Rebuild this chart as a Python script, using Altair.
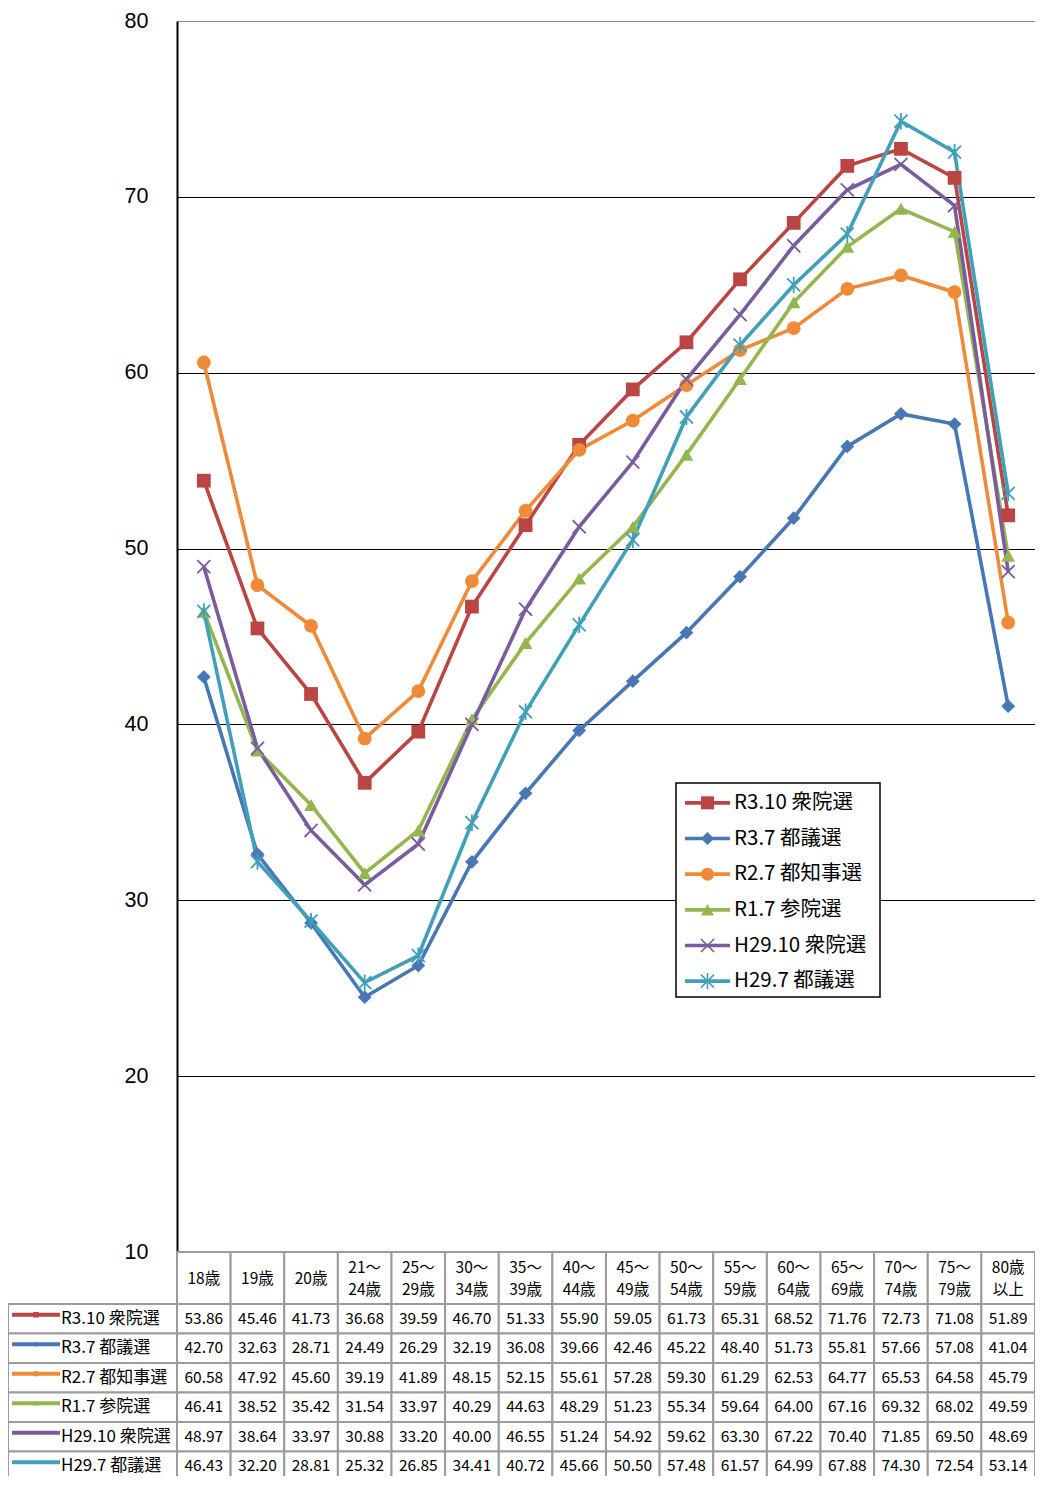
import altair as alt
import pandas as pd

categories = ["18歳", "19歳", "20歳", "21～24歳", "25～29歳", "30～34歳", "35～39歳", "40～44歳",
              "45～49歳", "50～54歳", "55～59歳", "60～64歳", "65～69歳", "70～74歳", "75～79歳", "80歳以上"]
header_labels = ["18歳", "19歳", "20歳", "21～\n24歳", "25～\n29歳", "30～\n34歳", "35～\n39歳", "40～\n44歳",
                 "45～\n49歳", "50～\n54歳", "55～\n59歳", "60～\n64歳", "65～\n69歳", "70～\n74歳", "75～\n79歳", "80歳\n以上"]
series = ["R3.10 衆院選", "R3.7 都議選", "R2.7 都知事選", "R1.7 参院選", "H29.10 衆院選", "H29.7 都議選"]

r3_10 = [53.86, 45.46, 41.73, 36.68, 39.59, 46.70, 51.33, 55.90, 59.05, 61.73, 65.31, 68.52, 71.76, 72.73, 71.08, 51.89]
r3_7 = [42.70, 32.63, 28.71, 24.49, 26.29, 32.19, 36.08, 39.66, 42.46, 45.22, 48.40, 51.73, 55.81, 57.66, 57.08, 41.04]
r2_7 = [60.58, 47.92, 45.60, 39.19, 41.89, 48.15, 52.15, 55.61, 57.28, 59.30, 61.29, 62.53, 64.77, 65.53, 64.58, 45.79]
r1_7 = [46.41, 38.52, 35.42, 31.54, 33.97, 40.29, 44.63, 48.29, 51.23, 55.34, 59.64, 64.00, 67.16, 69.32, 68.02, 49.59]
h29_10 = [48.97, 38.64, 33.97, 30.88, 33.20, 40.00, 46.55, 51.24, 54.92, 59.62, 63.30, 67.22, 70.40, 71.85, 69.50, 48.69]
h29_7 = [46.43, 32.20, 28.81, 25.32, 26.85, 34.41, 40.72, 45.66, 50.50, 57.48, 61.57, 64.99, 67.88, 74.30, 72.54, 53.14]
y_ticks = [10, 20, 30, 40, 50, 60, 70, 80]

values = [r3_10, r3_7, r2_7, r1_7, h29_10, h29_7]
colors = ["#BA4542", "#4877B5", "#EE8A38", "#93B74E", "#7A5C9E", "#41A0B9"]
shapes = ["square", "diamond", "circle", "triangle-up",
          "M-1,-1L1,1M-1,1L1,-1",
          "M-1,-1L1,1M-1,1L1,-1M0,-1.25L0,1.25"]

rows = []
for s, vals in zip(series, values):
    for i, (c, v) in enumerate(zip(categories, vals)):
        rows.append({"series": s, "cat": c, "idx": i, "value": v})
long = pd.DataFrame(rows)
filled_df = long[long["series"].isin(series[:4])]
cross_df = long[long["series"].isin(series[4:])]
ser_df = pd.DataFrame({"series": series})
head_df = pd.DataFrame({"cat": categories, "label": header_labels})
head_one = head_df[~head_df["label"].str.contains("\n")]
head_two = head_df[head_df["label"].str.contains("\n")]
one = pd.DataFrame({"k": [0]})

# layout (pixels inside plot area)
TOP = 13
W = 858
PLOT_H = 1231
HEAD_BOTTOM = PLOT_H + 52
ROW_H = 29.5
TOTAL_H = 1468 - TOP
JP = "Noto Sans CJK JP"
HEAD_MID = (PLOT_H + HEAD_BOTTOM) / 2
LEG_SHIFT = 16 - (8 + TOP)

color = alt.Color("series:N", scale=alt.Scale(domain=series, range=colors), legend=None)
shape = alt.Shape("series:N", scale=alt.Scale(domain=series, range=shapes), legend=None)

x_pt = alt.X("cat:N", sort=categories, scale=alt.Scale(type="point", domain=categories, padding=0.5), axis=None)
x_band = alt.X("cat:N", sort=categories, scale=alt.Scale(type="band", domain=categories, paddingInner=0, paddingOuter=0), axis=None)


def y_val(axis=None):
    return alt.Y("value:Q", scale=alt.Scale(domain=[10, 80], range=[PLOT_H, 0], nice=False, zero=False), axis=axis)


y_axis = alt.Axis(values=y_ticks, grid=True, ticks=False, labelPadding=29,
                  labelFont="Liberation Sans", labelFontSize=21.5, labelColor="#000",
                  domain=True, domainColor="#000", domainWidth=2,
                  gridColor={"condition": {"test": "datum.value === 80 || datum.value === 10", "value": "#8c8c8c"}, "value": "#000000"},
                  gridWidth=1.2, title=None)

lines = alt.Chart(long).mark_line(strokeWidth=3.6).encode(
    x=x_pt, y=y_val(y_axis), color=color, order=alt.Order("idx:Q"))

pts_filled = alt.Chart(filled_df).mark_point(filled=True, size=190, opacity=1).encode(
    x=x_pt, y=y_val(), color=color, shape=shape)
pts_cross = alt.Chart(cross_df).mark_point(filled=False, size=170, strokeWidth=1.8, opacity=1).encode(
    x=x_pt, y=y_val(), color=color, shape=shape)

# in-plot legend
LEG_X0, LEG_X1, LEG_Y0, LEG_Y1 = 499, 703, 767 + LEG_SHIFT, 981 + LEG_SHIFT
y_leg = alt.Y("series:N", scale=alt.Scale(type="point", domain=series, range=[LEG_Y0 + 2, LEG_Y1 + 2], padding=0.5), axis=None)
leg_box = alt.Chart(one).mark_rect(fill="white", stroke="#000", strokeWidth=1.5).encode(
    x=alt.value(LEG_X0), x2=alt.value(LEG_X1), y=alt.value(LEG_Y0), y2=alt.value(LEG_Y1))
leg_line = alt.Chart(ser_df).mark_rule(strokeWidth=3.6).encode(
    x=alt.value(508), x2=alt.value(553), y=y_leg, color=color)
leg_pts_f = alt.Chart(ser_df.iloc[:4]).mark_point(filled=True, size=170, opacity=1).encode(
    x=alt.value(530.5), y=y_leg, color=color, shape=shape)
leg_pts_c = alt.Chart(ser_df.iloc[4:]).mark_point(filled=False, size=170, strokeWidth=1.6, opacity=1).encode(
    x=alt.value(530.5), y=y_leg, color=color, shape=shape)
leg_text = alt.Chart(ser_df).mark_text(align="left", baseline="middle", font=JP, fontSize=20.5, color="#000").encode(
    x=alt.value(557), y=y_leg, text="series:N")

# data table
y_tab_band = alt.Y("series:N", scale=alt.Scale(type="band", domain=series, range=[HEAD_BOTTOM, HEAD_BOTTOM + 6 * ROW_H],
                                               paddingInner=0, paddingOuter=0), axis=None)
y_tab_pt = alt.Y("series:N", scale=alt.Scale(type="point", domain=series, range=[HEAD_BOTTOM, HEAD_BOTTOM + 6 * ROW_H],
                                             padding=0.5), axis=None)
GRID = "#9b9b9b"
head_cells = alt.Chart(head_df).mark_rect(fill="white", stroke=GRID, strokeWidth=2).encode(
    x=x_band, y=alt.value(PLOT_H), y2=alt.value(HEAD_BOTTOM))
head_text1 = alt.Chart(head_one).mark_text(font=JP, fontSize=15.5, baseline="middle", color="#000").encode(
    x=x_band, y=alt.value(HEAD_MID + 1), text="label:N")
head_text2 = alt.Chart(head_two).mark_text(font=JP, fontSize=15.5, lineBreak="\n", lineHeight=22,
                                           baseline="middle", color="#000").encode(
    x=x_band, y=alt.value(HEAD_MID - 10), text="label:N")
cells = alt.Chart(long).mark_rect(fill="white", stroke=GRID, strokeWidth=2).encode(x=x_band, y=y_tab_band)
cell_text = alt.Chart(long).mark_text(font=JP, fontSize=15.5, baseline="middle", color="#000").encode(
    x=x_band, y=y_tab_pt, text=alt.Text("value:Q", format=".2f"))
lab_cells = alt.Chart(ser_df).mark_rect(fill="white", stroke=GRID, strokeWidth=2).encode(
    x=alt.value(-169), x2=alt.value(0), y=y_tab_band)
lab_line = alt.Chart(ser_df).mark_rule(strokeWidth=4, yOffset=-4).encode(
    x=alt.value(-165), x2=alt.value(-117), y=y_tab_pt, color=color)
lab_pts = alt.Chart(ser_df).mark_point(filled=True, size=30, yOffset=-4, opacity=1).encode(
    x=alt.value(-141), y=y_tab_pt, color=color, shape=shape)
lab_text = alt.Chart(ser_df).mark_text(align="left", baseline="middle", font=JP, fontSize=17, color="#000").encode(
    x=alt.value(-116), y=y_tab_pt, text="series:N")

chart = alt.layer(
    lines, pts_filled, pts_cross,
    leg_box, leg_line, leg_pts_f, leg_pts_c, leg_text,
    head_cells, head_text1, head_text2, cells, cell_text, lab_cells, lab_line, lab_pts, lab_text,
).resolve_scale(x="independent", y="independent").properties(
    width=W, height=TOTAL_H,
    autosize=alt.AutoSizeParams(type="none"),
    padding={"left": 169, "top": TOP, "right": 0, "bottom": 0},
    background="white",
).configure_view(stroke=None)

chart.save("out.html", embed_options={"renderer": "svg", "actions": False})
